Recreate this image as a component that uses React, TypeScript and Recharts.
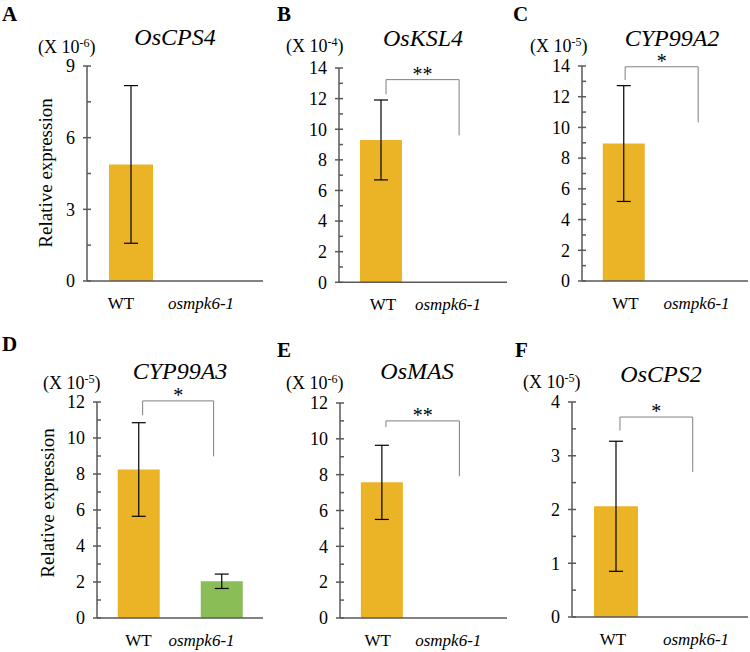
import React from "react";
import { BarChart, Bar, XAxis, YAxis, ErrorBar, ReferenceLine, Cell } from "recharts";

const FONT = "'Liberation Serif', 'Times New Roman', serif";
const AXIS = "#595959";
const GOLD = "#EBB326";
const GREEN = "#8BBD57";

const genotypes = ["WT", "osmpk6-1"];

// means and SD (units as on each y axis)
const osCPS4Mean = [4.88, 0];
const osCPS4Sd = [3.3, 0];
const osKSL4Mean = [9.3, 0];
const osKSL4Sd = [2.61, 0];
const cyp99a2Mean = [8.95, 0];
const cyp99a2Sd = [3.77, 0];
const cyp99a3Mean = [8.25, 2.04];
const cyp99a3Sd = [2.6, 0.4];
const osMASMean = [7.57, 0];
const osMASSd = [2.07, 0];
const osCPS2Mean = [2.06, 0];
const osCPS2Sd = [1.21, 0];

const ticks9 = [0, 1.5, 3, 4.5, 6, 7.5, 9];
const major9 = [0, 3, 6, 9];
const ticks14 = [0, 1, 2, 3, 4, 5, 6, 7, 8, 9, 10, 11, 12, 13, 14];
const major14 = [0, 2, 4, 6, 8, 10, 12, 14];
const ticks12 = [0, 1, 2, 3, 4, 5, 6, 7, 8, 9, 10, 11, 12];
const major12 = [0, 2, 4, 6, 8, 10, 12];
const ticks4 = [0, 0.5, 1, 1.5, 2, 2.5, 3, 3.5, 4];
const major4 = [0, 1, 2, 3, 4];

// significance brackets: [left x, right x, top y, left foot y, right foot y] (x as fraction of plot width)
const bracketKSL4 = [0.28, 0.715, 13.24, 12.28, 9.6];
const bracketCYP99A2 = [0.26, 0.7, 13.95, 13.09, 10.33];
const bracketCYP99A3 = [0.275, 0.7025, 12.06, 11.26, 8.98];
const bracketMAS = [0.275, 0.715, 11.0, 10.66, 7.91];
const bracketCPS2 = [0.2725, 0.686, 3.72, 3.47, 2.7];

type PanelProps = {
  axisX: number;
  axisRight: number;
  axisTop: number;
  axisBottom: number;
  mean: number[];
  sd: number[];
  ticks: number[];
  majors: number[];
  max: number;
  bracket?: number[];
  stars?: string;
  labelDx: number[];
};

const Panel = (p: PanelProps) => {
  const data = genotypes.map((g, i) => ({ name: g, mean: p.mean[i], sd: p.sd[i] || null }));
  const width = p.axisRight - p.axisX + 82;
  const height = p.axisBottom - p.axisTop + 60;
  const b = p.bracket;

  const yTick = (props: any) => {
    const { x, y, payload } = props;
    const major = p.majors.includes(payload.value);
    return (
      <g>
        {major ? (
          <line x1={x - 4} x2={x + 4} y1={y} y2={y} stroke={AXIS} strokeWidth={1.5} />
        ) : (
          <line x1={x} x2={x + 4} y1={y} y2={y} stroke={AXIS} strokeWidth={1.5} />
        )}
        {major && (
          <text x={x - 12} y={y} dy="0.35em" textAnchor="end" fontSize={18} fontFamily={FONT} fill="#000">
            {payload.value}
          </text>
        )}
      </g>
    );
  };

  const xTick = (props: any) => {
    const { x, y, payload } = props;
    const i = genotypes.indexOf(payload.value);
    return (
      <text
        x={x + p.labelDx[i]}
        y={y + 28}
        textAnchor="middle"
        fontSize={17}
        fontFamily={FONT}
        fontStyle={i === 1 ? "italic" : "normal"}
        fill="#000"
      >
        {payload.value}
      </text>
    );
  };

  return (
    <div style={{ position: "absolute", left: p.axisX - 80, top: p.axisTop - 20 }}>
      <BarChart
        width={width}
        height={height}
        data={data}
        margin={{ top: 20, right: 2, left: 20, bottom: 0 }}
        barCategoryGap="25%"
      >
        <XAxis
          dataKey="name"
          height={40}
          interval={0}
          tickSize={0}
          tickMargin={0}
          tickLine={false}
          axisLine={{ stroke: AXIS, strokeWidth: 1.5 }}
          tick={xTick}
        />
        <XAxis xAxisId="pos" type="number" domain={[0, 1]} allowDataOverflow hide />
        <YAxis
          width={60}
          domain={[0, p.max]}
          ticks={p.ticks}
          interval={0}
          tickSize={0}
          tickMargin={0}
          tickLine={false}
          axisLine={{ stroke: AXIS, strokeWidth: 1.5 }}
          tick={yTick}
        />
        <Bar dataKey="mean" isAnimationActive={false}>
          {data.map((d, i) => (
            <Cell key={d.name} fill={i === 0 ? GOLD : GREEN} />
          ))}
          <ErrorBar dataKey="sd" width={7} stroke="#000" strokeWidth={1.2} direction="y" isAnimationActive={false} />
        </Bar>
        {b && (
          <ReferenceLine
            xAxisId="pos"
            ifOverflow="visible"
            stroke="#7f7f7f"
            strokeWidth={1}
            segment={[
              { x: b[0], y: b[3] },
              { x: b[0], y: b[2] },
            ]}
          />
        )}
        {b && (
          <ReferenceLine
            xAxisId="pos"
            ifOverflow="visible"
            stroke="#7f7f7f"
            strokeWidth={1}
            segment={[
              { x: b[0], y: b[2] },
              { x: b[1], y: b[2] },
            ]}
            label={{ value: p.stars, position: "top", offset: -1, fill: "#000", fontSize: 20, fontFamily: FONT }}
          />
        )}
        {b && (
          <ReferenceLine
            xAxisId="pos"
            ifOverflow="visible"
            stroke="#7f7f7f"
            strokeWidth={1}
            segment={[
              { x: b[1], y: b[2] },
              { x: b[1], y: b[4] },
            ]}
          />
        )}
      </BarChart>
    </div>
  );
};

const Unit = ({ x, y, exp }: { x: number; y: number; exp: string }) => (
  <text x={x} y={y} fontSize={18} fontFamily={FONT} fill="#000">
    (X 10
    <tspan dy={-6} fontSize={12}>
      {exp}
    </tspan>
    <tspan dy={6}>)</tspan>
  </text>
);

const Letter = ({ x, y, t }: { x: number; y: number; t: string }) => (
  <text x={x} y={y} fontSize={21} fontWeight="bold" fontFamily={FONT} fill="#000">
    {t}
  </text>
);

const Title = ({ x, y, t }: { x: number; y: number; t: string }) => (
  <text x={x} y={y} fontSize={24} fontStyle="italic" textAnchor="middle" fontFamily={FONT} fill="#000">
    {t}
  </text>
);

const YLabel = ({ x, y }: { x: number; y: number }) => (
  <text
    x={x}
    y={y}
    transform={`rotate(-90 ${x} ${y})`}
    dy="0.35em"
    textAnchor="middle"
    fontSize={19}
    fontFamily={FONT}
    fill="#000"
  >
    Relative expression
  </text>
);

export default function App() {
  return (
    <div style={{ position: "absolute", left: 0, top: 0, width: 750, height: 652, background: "#fff" }}>
      <Panel axisX={87} axisRight={263} axisTop={66} axisBottom={281} mean={osCPS4Mean} sd={osCPS4Sd}
        ticks={ticks9} majors={major9} max={9} labelDx={[-10, -18]} />
      <Panel axisX={339} axisRight={507} axisTop={67.7} axisBottom={282} mean={osKSL4Mean} sd={osKSL4Sd}
        ticks={ticks14} majors={major14} max={14} bracket={bracketKSL4} stars="**" labelDx={[2, -17]} />
      <Panel axisX={582} axisRight={748} axisTop={66} axisBottom={281} mean={cyp99a2Mean} sd={cyp99a2Sd}
        ticks={ticks14} majors={major14} max={14} bracket={bracketCYP99A2} stars="*" labelDx={[2, -10]} />
      <Panel axisX={97} axisRight={263} axisTop={401.7} axisBottom={617.7} mean={cyp99a3Mean} sd={cyp99a3Sd}
        ticks={ticks12} majors={major12} max={12} bracket={bracketCYP99A3} stars="*" labelDx={[0, -20]} />
      <Panel axisX={340} axisRight={507} axisTop={402.7} axisBottom={617.7} mean={osMASMean} sd={osMASSd}
        ticks={ticks12} majors={major12} max={12} bracket={bracketMAS} stars="**" labelDx={[-4, -17]} />
      <Panel axisX={572} axisRight={748} axisTop={401.7} axisBottom={616.7} mean={osCPS2Mean} sd={osCPS2Sd}
        ticks={ticks4} majors={major4} max={4} bracket={bracketCPS2} stars="*" labelDx={[-3, -8]} />

      <svg width={750} height={652} style={{ position: "absolute", left: 0, top: 0, pointerEvents: "none" }}>
        <Letter x={2} y={21} t="A" />
        <Letter x={277} y={21} t="B" />
        <Letter x={513} y={21} t="C" />
        <Letter x={2} y={351} t="D" />
        <Letter x={277} y={357} t="E" />
        <Letter x={515} y={357} t="F" />

        <Title x={175} y={45} t="OsCPS4" />
        <Title x={423} y={46} t="OsKSL4" />
        <Title x={672} y={46} t="CYP99A2" />
        <Title x={180} y={379} t="CYP99A3" />
        <Title x={417} y={379} t="OsMAS" />
        <Title x={661} y={382} t="OsCPS2" />

        <Unit x={38} y={53} exp="-6" />
        <Unit x={286} y={52} exp="-4" />
        <Unit x={530} y={52} exp="-5" />
        <Unit x={43} y={389} exp="-5" />
        <Unit x={286} y={389} exp="-6" />
        <Unit x={523} y={388} exp="-5" />

        <YLabel x={45} y={173} />
        <YLabel x={47} y={503} />
      </svg>
    </div>
  );
}
